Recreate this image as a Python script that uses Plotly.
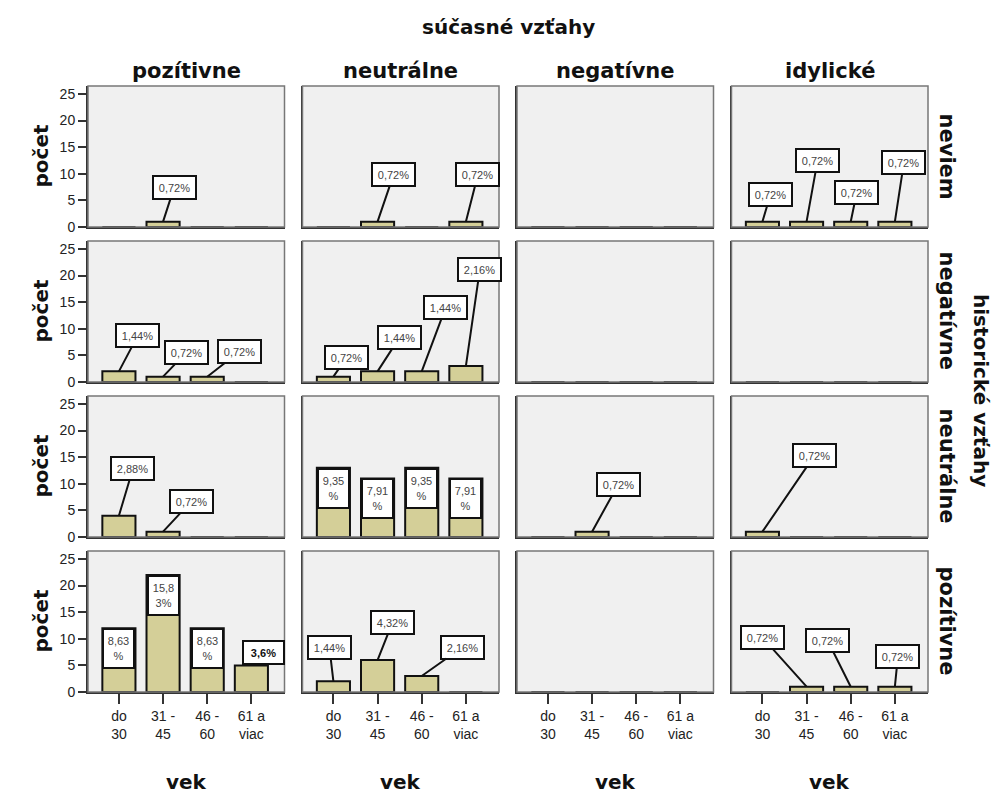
import plotly.graph_objects as go
from plotly.subplots import make_subplots

# ---------------- data ----------------
categories = ["do 30", "31 - 45", "46 - 60", "61 a viac"]
tick_text = ["do<br>30", "31 -<br>45", "46 -<br>60", "61 a<br>viac"]
col_groups = ["pozítivne", "neutrálne", "negatívne", "idylické"]      # súčasné vzťahy
row_groups = ["neviem", "negatívne", "neutrálne", "pozítivne"]        # historické vzťahy

# counts[row][col] -> values per age category
counts_neviem = [[0, 1, 0, 0], [0, 1, 0, 1], [0, 0, 0, 0], [1, 1, 1, 1]]
counts_negativne = [[2, 1, 1, 0], [1, 2, 2, 3], [0, 0, 0, 0], [0, 0, 0, 0]]
counts_neutralne = [[4, 1, 0, 0], [13, 11, 13, 11], [0, 1, 0, 0], [1, 0, 0, 0]]
counts_pozitivne = [[12, 22, 12, 5], [2, 6, 3, 0], [0, 0, 0, 0], [0, 1, 1, 1]]
counts = [counts_neviem, counts_negativne, counts_neutralne, counts_pozitivne]

# percentage labels as printed on the chart
labels_neviem = [["", "0,72%", "", ""], ["", "0,72%", "", "0,72%"], ["", "", "", ""],
                 ["0,72%", "0,72%", "0,72%", "0,72%"]]
labels_negativne = [["1,44%", "0,72%", "0,72%", ""], ["0,72%", "1,44%", "1,44%", "2,16%"],
                    ["", "", "", ""], ["", "", "", ""]]
labels_neutralne = [["2,88%", "0,72%", "", ""], ["9,35<br>%", "7,91<br>%", "9,35<br>%", "7,91<br>%"],
                    ["", "0,72%", "", ""], ["0,72%", "", "", ""]]
labels_pozitivne = [["8,63<br>%", "15,8<br>3%", "8,63<br>%", "3,6%"], ["1,44%", "4,32%", "2,16%", ""],
                    ["", "", "", ""], ["", "0,72%", "0,72%", "0,72%"]]
labels = [labels_neviem, labels_negativne, labels_neutralne, labels_pozitivne]

# ---------------- label placement (style) ----------------
# "c" = callout box with leader line (dx, dy pixel offsets), "i" = box inside bar top, "t" = box on top
place = {
    (0, 0, 1): ("c", 11, -34),
    (0, 1, 1): ("c", 16, -47), (0, 1, 3): ("c", 12, -47),
    (0, 3, 0): ("c", 8, -27), (0, 3, 1): ("c", 11, -61), (0, 3, 2): ("c", 6, -29), (0, 3, 3): ("c", 9, -59),
    (1, 0, 0): ("c", 19, -36), (1, 0, 1): ("c", 23, -24), (1, 0, 2): ("c", 32, -25),
    (1, 1, 0): ("c", 13, -19), (1, 1, 1): ("c", 22, -34), (1, 1, 2): ("c", 24, -64), (1, 1, 3): ("c", 14, -97),
    (2, 0, 0): ("c", 14, -47), (2, 0, 1): ("c", 28, -30),
    (2, 1, 0): ("i", 0, 0), (2, 1, 1): ("i", 0, 0), (2, 1, 2): ("i", 0, 0), (2, 1, 3): ("i", 0, 0),
    (2, 2, 1): ("c", 26, -47),
    (2, 3, 0): ("c", 52, -76),
    (3, 0, 0): ("i", 0, 0), (3, 0, 1): ("i", 0, 0), (3, 0, 2): ("i", 0, 0), (3, 0, 3): ("t", 12, 0),
    (3, 1, 0): ("c", -4, -34), (3, 1, 1): ("c", 15, -38), (3, 1, 2): ("c", 41, -29),
    (3, 3, 1): ("c", -44, -49), (3, 3, 2): ("c", -23, -46), (3, 3, 3): ("c", 3, -30),
}

BAR = "#d4cf98"
PANEL = "#f0f0f0"
TICKFONT = dict(family="Liberation Sans, Arial, sans-serif", size=14, color="#222")
TITLEFONT = "DejaVu Sans, Verdana, sans-serif"
LABELFONT = dict(family="Liberation Sans, Arial, sans-serif", size=11, color="#444")

fig = make_subplots(rows=4, cols=4, horizontal_spacing=18 / 840, vertical_spacing=14 / 606)

for r in range(4):
    for c in range(4):
        fig.add_trace(go.Bar(
            x=categories, y=counts[r][c], width=0.75,
            marker=dict(color=BAR, line=dict(color="#111", width=2)),
            showlegend=False, hoverinfo="x+y"), row=r + 1, col=c + 1)
        n = r * 4 + c + 1
        xref = "x" if n == 1 else f"x{n}"
        yref = "y" if n == 1 else f"y{n}"
        for k, cat in enumerate(categories):
            txt = labels[r][c][k]
            if not txt:
                continue
            mode, dx, dy = place[(r, c, k)]
            v = counts[r][c][k]
            if mode == "c":
                fig.add_annotation(x=cat, y=v, xref=xref, yref=yref, text=txt, font=LABELFONT,
                                   showarrow=True, arrowhead=0, arrowwidth=2, arrowcolor="#111",
                                   ax=dx, ay=dy, standoff=0, bgcolor="white", bordercolor="#111",
                                   borderwidth=2, borderpad=1, width=39, height=19)
            elif mode == "i":
                fig.add_annotation(x=cat, y=v, xref=xref, yref=yref, text=txt, font=LABELFONT,
                                   showarrow=False, yanchor="top", bgcolor="white", bordercolor="#111",
                                   borderwidth=2, borderpad=0, width=29, height=37)
            else:
                fig.add_annotation(x=cat, y=v, xref=xref, yref=yref, text="<b>" + txt + "</b>",
                                   font=dict(family=LABELFONT["family"], size=11, color="#111"),
                                   showarrow=False, yanchor="bottom", xshift=dx, bgcolor="white",
                                   bordercolor="#111", borderwidth=2, borderpad=1, width=37, height=19)
        # panel frame
        fig.add_shape(type="rect", xref=f"{xref} domain", yref=f"{yref} domain",
                      x0=0, x1=1, y0=0, y1=1, line=dict(color="#777", width=1.5), layer="above")

fig.update_xaxes(range=[-0.7, 3.75], showgrid=False, zeroline=False, showline=True,
                 linecolor="#333", linewidth=2, showticklabels=False, ticks="",
                 categoryorder="array", categoryarray=categories, fixedrange=True)
fig.update_yaxes(range=[0, 26.5], showgrid=False, zeroline=False, showline=True,
                 linecolor="#333", linewidth=2, showticklabels=False, ticks="",
                 tickvals=[0, 5, 10, 15, 20, 25], fixedrange=True)
for c in range(4):
    fig.update_xaxes(row=4, col=c + 1, ticks="outside", ticklen=10, tickwidth=2, tickcolor="#333",
                     showticklabels=True, tickvals=categories, ticktext=tick_text, tickfont=TICKFONT)
for r in range(4):
    fig.update_yaxes(row=r + 1, col=1, ticks="outside", ticklen=8, tickwidth=2, tickcolor="#333",
                     showticklabels=True, tickfont=TICKFONT)

# page offset (body margin 8px) compensated
OFF = 8
L, T = 88 - OFF, 86 - OFF
W, H = 1000 - OFF, 794 - OFF
pw, ph = 840, 606
R, B = W - L - pw, H - T - ph
colw = (1 - 3 * 18 / 840) / 4
rowh = (1 - 3 * 14 / 606) / 4


def px(xp):  # reference-image pixel x -> paper
    return (xp - OFF - L) / pw


def py(yp):  # reference-image pixel y -> paper
    return (T + ph - (yp - OFF)) / ph


def ann(x, y, text, size, angle=0):
    fig.add_annotation(x=x, y=y, xref="paper", yref="paper", text=text, showarrow=False,
                       xanchor="center", yanchor="middle", textangle=angle,
                       font=dict(family=TITLEFONT, size=size, color="#111"))


for c, name in enumerate(col_groups):
    xc = c * (colw + 18 / 840) + colw / 2
    ann(xc, py(71), f"<b>{name}</b>", 21)
    ann(xc, py(782), "<b>vek</b>", 20)
for r, name in enumerate(row_groups):
    yc = 1 - (r * (rowh + 14 / 606) + rowh / 2)
    ann(px(947), yc, f"<b>{name}</b>", 21, 90)
    ann(px(40), yc, "<b>počet</b>", 20, -90)
ann(0.5, py(27), "<b>súčasné vzťahy</b>", 20)
ann(px(981), py(390), "<b>historické vzťahy</b>", 20, 90)

fig.update_layout(width=W, height=H, margin=dict(l=L, r=R, t=T, b=B),
                  paper_bgcolor="white", plot_bgcolor=PANEL, bargap=0.25)

fig.write_html("out.html")
